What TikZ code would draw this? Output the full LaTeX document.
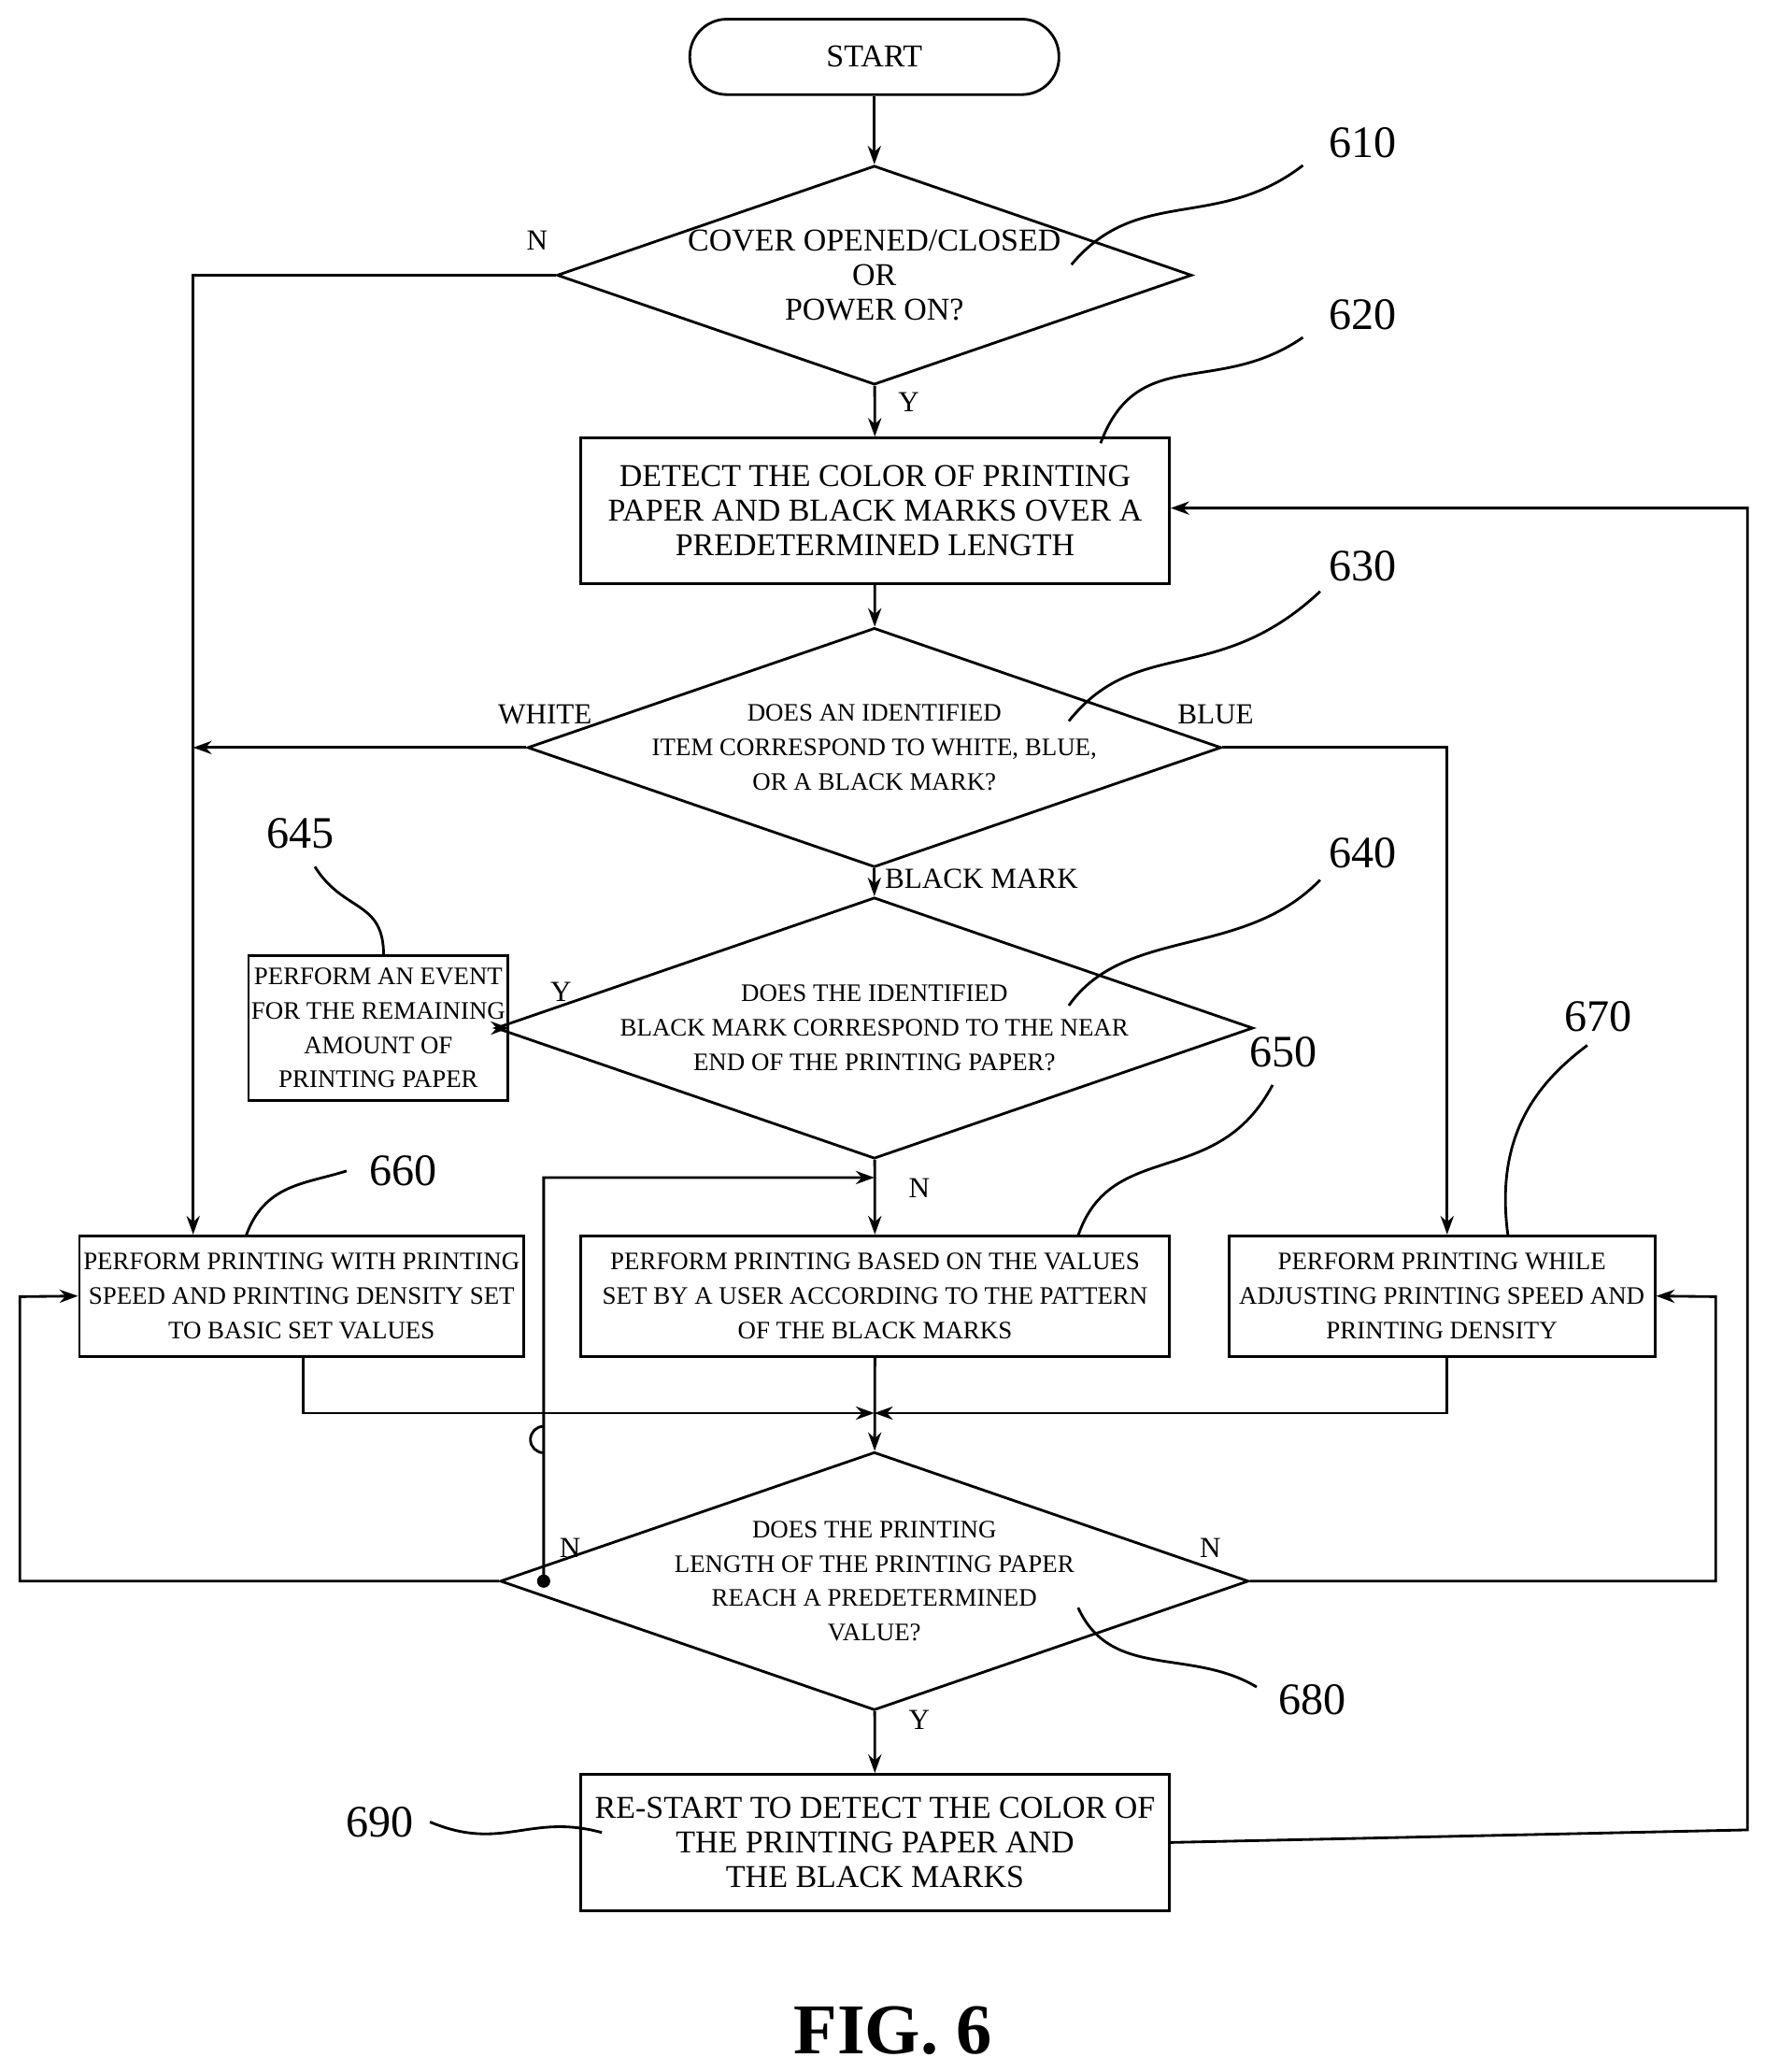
\documentclass[tikz,border=0pt]{standalone}
\usepackage{fontspec}
\setmainfont{Liberation Serif}
\usetikzlibrary{arrows.meta,shapes.geometric}
\begin{document}
\begin{tikzpicture}[x=0.5pt,y=-0.5pt,line width=1pt,
 arr/.style={-{Stealth[length=7pt,width=5pt]}},
 t/.style={font=\fontsize{12}{13}\selectfont,align=center},
 ts/.style={font=\fontsize{9.5}{13}\selectfont,align=center},
 lbl/.style={font=\fontsize{11}{12}\selectfont},
 num/.style={font=\fontsize{17}{18}\selectfont},
 box/.style={draw,minimum width=#1},
 dia/.style={draw,diamond,aspect=2.9,minimum width=442pt*0.5,minimum height=152pt*0.5,inner sep=0pt}]
\useasboundingbox (0,0) rectangle (1334,1566);
\node[draw,rounded corners=14pt,minimum width=139.5pt,minimum height=28.5pt,t] (start) at (661,43) {START};
\node[dia,t] (d610) at (661,208) {COVER OPENED/CLOSED\\OR\\POWER ON?};
\node[draw,minimum width=222.5pt,minimum height=55pt,t] (b620) at (661.5,386) {DETECT THE COLOR OF PRINTING\\PAPER AND BLACK MARKS OVER A\\PREDETERMINED LENGTH};
\node[dia,ts] (d630) at (661,565) {DOES AN IDENTIFIED\\ITEM CORRESPOND TO WHITE, BLUE,\\OR A BLACK MARK?};
\node[dia,ts] (d640) at (661,777) {DOES THE IDENTIFIED\\BLACK MARK CORRESPOND TO THE NEAR\\END OF THE PRINTING PAPER?};
\node[draw,minimum width=96pt,minimum height=55pt,ts,inner sep=1pt] (b645) at (286,777) {PERFORM AN EVENT\\FOR THE REMAINING\\AMOUNT OF\\PRINTING PAPER};
\node[draw,minimum width=168pt,minimum height=45.5pt,ts,inner sep=1pt] (b660) at (228,979.5) {PERFORM PRINTING WITH PRINTING\\SPEED AND PRINTING DENSITY SET\\TO BASIC SET VALUES};
\node[draw,minimum width=222.5pt,minimum height=45.5pt,ts,inner sep=1pt] (b650) at (661.5,979.5) {PERFORM PRINTING BASED ON THE VALUES\\SET BY A USER ACCORDING TO THE PATTERN\\OF THE BLACK MARKS};
\node[draw,minimum width=161pt,minimum height=45.5pt,ts,inner sep=1pt] (b670) at (1090,979.5) {PERFORM PRINTING WHILE\\ADJUSTING PRINTING SPEED AND\\PRINTING DENSITY};
\node[dia,ts] (d680) at (661,1195) {DOES THE PRINTING\\LENGTH OF THE PRINTING PAPER\\REACH A PREDETERMINED\\VALUE?};
\node[draw,minimum width=222.5pt,minimum height=51.5pt,t] (b690) at (661.5,1392.5) {RE-START TO DETECT THE COLOR OF\\THE PRINTING PAPER AND\\THE BLACK MARKS};
\node[font=\bfseries\fontsize{27}{28}\selectfont] (fig) at (675,1535) {FIG. 6};
% connectors
\draw[arr] (start) -- (d610);
\draw[arr] (d610.west) -| (b660.north -| 146,0);
\draw[arr] (d610) -- (b620);
\draw[arr] (b620) -- (d630);
\coordinate (wl) at (146,565);
\draw[arr] (d630.west) -- (wl);
\draw[arr] (d630.east) -| (b670.north -| 1094,0);
\draw[arr] (d630) -- (d640);
\draw[arr] (d640.west) -- (b645.east);
\draw[arr] (d640) -- (b650);
\coordinate (jn) at (411,1195);
\coordinate (mg) at (661,1068);
\draw[arr] (jn) -- (411,1078) arc (-90:90:10pt*0.5*-1) -- (411,890) -- (661,890);
\draw[arr] (b660.south -| 229,0) -- (229,1068) -- (mg);
\draw[arr] (b670.south -| 1094,0) -- (1094,1068) -- (mg);
\draw[arr] (b650) -- (d680);
\draw[arr] (d680.west) -- (15,1195) -- (15,980) -- (b660.west);
\draw[arr] (d680.east) -- (1297,1195) -- (1297,980) -- (b670.east);
\draw[arr] (d680) -- (b690);
\draw[arr] (b690.east) -- (1321,1383) -- (1321,384) -- (b620.east |- 0,384);
\fill (jn) circle (2.5pt);
% labels
\node[lbl] (n1) at (406,182) {N};
\node[lbl] (y1) at (687,304) {Y};
\node[lbl] (w1) at (412,540) {WHITE};
\node[lbl] (bl1) at (919,540) {BLUE};
\node[lbl] (bm1) at (742,664) {BLACK MARK};
\node[lbl] (y2) at (424,750) {Y};
\node[lbl] (n2) at (695,898) {N};
\node[lbl] (n3) at (431,1170) {N};
\node[lbl] (n4) at (915,1170) {N};
\node[lbl] (y3) at (695,1300) {Y};
% reference numerals
\node[num] (r610) at (1030,108) {610};
\draw (810,200) .. controls (860,140) and (920,175) .. (985,125);
\node[num] (r620) at (1030,238) {620};
\draw (832,335) .. controls (860,260) and (920,300) .. (985,255);
\node[num] (r630) at (1030,428) {630};
\draw (808,545) .. controls (860,480) and (920,520) .. (998,447);
\node[num] (r640) at (1030,645) {640};
\draw (808,760) .. controls (850,700) and (940,725) .. (998,665);
\node[num] (r645) at (227,630) {645};
\draw (290,722) .. controls (290,680) and (260,690) .. (238,655);
\node[num] (r650) at (970,795) {650};
\draw (815,934) .. controls (840,860) and (920,900) .. (962,820);
\node[num] (r660) at (305,885) {660};
\draw (186,934) .. controls (200,895) and (230,895) .. (262,885);
\node[num] (r670) at (1208,768) {670};
\draw (1140,934) .. controls (1130,860) and (1160,820) .. (1200,790);
\node[num] (r680) at (992,1285) {680};
\draw (815,1215) .. controls (840,1270) and (900,1245) .. (950,1275);
\node[num] (r690) at (287,1377) {690};
\draw (325,1377) .. controls (380,1400) and (400,1370) .. (455,1385);
\end{tikzpicture}
\end{document}
